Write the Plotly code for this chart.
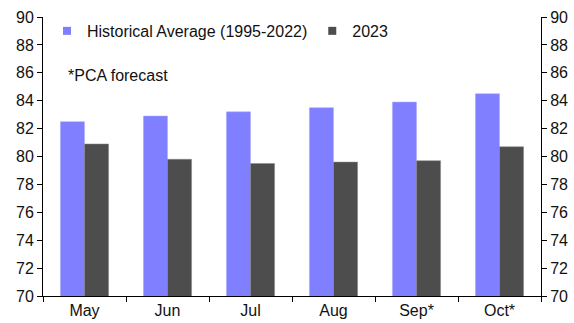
import plotly.graph_objects as go

months = ["May", "Jun", "Jul", "Aug", "Sep*", "Oct*"]
hist_avg = [82.5, 82.9, 83.2, 83.5, 83.9, 84.5]
y2023 = [80.9, 79.8, 79.5, 79.6, 79.7, 80.7]
y_ticks = [70, 72, 74, 76, 78, 80, 82, 84, 86, 88, 90]
series_names = ["Historical Average (1995-2022)", "2023"]
series_colors = ["#7f7fff", "#4d4d4d"]

FONT = "Liberation Sans, Arial, sans-serif"
TXT = "#111111"
fig = go.Figure()
fig.add_trace(go.Bar(x=months, y=hist_avg, name=series_names[0], showlegend=False,
                     marker=dict(color=series_colors[0], line=dict(color="#a9a9ff", width=0.5))))
fig.add_trace(go.Bar(x=months, y=y2023, name=series_names[1], showlegend=False,
                     marker=dict(color=series_colors[1], line=dict(color="#888888", width=0.5))))
# legend entries with small square symbols
for nm, col in zip(series_names, series_colors):
    fig.add_trace(go.Scatter(x=[months[0]], y=[None], name=nm, mode="markers",
                             marker=dict(symbol="square", size=8, color=col),
                             hoverinfo="skip"))
fig.add_trace(go.Scatter(x=months, y=y2023, yaxis="y2", mode="markers",
                         marker=dict(opacity=0), showlegend=False, hoverinfo="skip"))

axis_common = dict(range=[70, 90], tickvals=y_ticks, ticks="outside", ticklen=5,
                   tickcolor="#000", showline=True, linecolor="#000", linewidth=1,
                   showgrid=False, zeroline=False, automargin=False,
                   tickfont=dict(family=FONT, size=16, color=TXT))
fig.update_layout(
    width=574, height=323,
    margin=dict(l=43, r=33, t=17, b=27, autoexpand=False),
    paper_bgcolor="white", plot_bgcolor="white",
    barmode="group", bargap=0.42, bargroupgap=0,
    font=dict(family=FONT, size=16, color=TXT),
    xaxis=dict(showline=True, linecolor="#000", linewidth=1, ticks="outside",
               tickson="boundaries", ticklen=5, tickcolor="#000", showgrid=False,
               automargin=False,
               tickfont=dict(family=FONT, size=16, color=TXT)),
    yaxis=axis_common,
    yaxis2=dict(overlaying="y", side="right", **axis_common),
    legend=dict(orientation="h", x=0.008, y=0.95, xanchor="left", yanchor="middle",
                bgcolor="rgba(0,0,0,0)", font=dict(family=FONT, size=16, color=TXT),
                itemwidth=30, traceorder="normal"),
    annotations=[dict(text="*PCA forecast", xref="paper", yref="paper",
                      x=0.046, y=0.792, xanchor="left", yanchor="middle",
                      showarrow=False, font=dict(family=FONT, size=16, color=TXT))],
)
fig.write_html("out.html")
